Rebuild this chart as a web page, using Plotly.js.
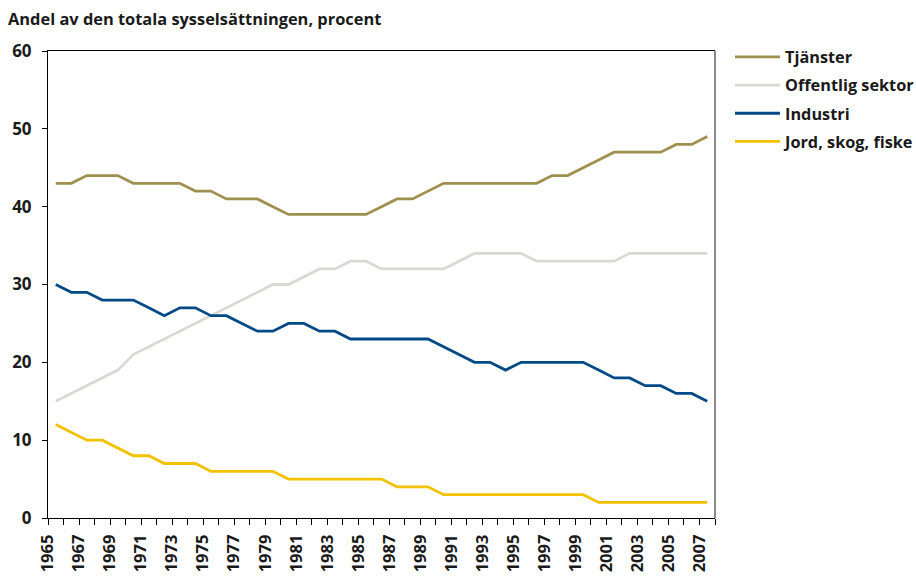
<!DOCTYPE html>
<html>
<head>
<meta charset="utf-8">
<script src="https://cdn.plot.ly/plotly-3.0.1.min.js"></script>
<style>html,body{margin:0;padding:0;background:#fff;}#chart{width:916px;height:580px;}</style>
</head>
<body>
<div id="chart"></div>
<script>
var years = [];
for (var y = 1965; y <= 2007; y++) years.push(y);

var tjanster = [43,43,44,44,44,43,43,43,43,42,42,41,41,41,40,39,39,39,39,39,39,40,41,41,42,43,43,43,43,43,43,43,44,44,45,46,47,47,47,47,48,48,49];
var offentlig = [15,16,17,18,19,21,22,23,24,25,26,27,28,29,30,30,31,32,32,33,33,32,32,32,32,32,33,34,34,34,34,33,33,33,33,33,33,34,34,34,34,34,34];
var industri = [30,29,29,28,28,28,27,26,27,27,26,26,25,24,24,25,25,24,24,23,23,23,23,23,23,22,21,20,20,19,20,20,20,20,20,19,18,18,17,17,16,16,15];
var jord = [12,11,10,10,9,8,8,7,7,7,6,6,6,6,6,5,5,5,5,5,5,5,4,4,4,3,3,3,3,3,3,3,3,3,3,2,2,2,2,2,2,2,2];

var seriesNames = ["Tjänster", "Offentlig sektor", "Industri", "Jord, skog, fiske"];
var seriesColors = ["#9e9150", "#d9d9d4", "#024a86", "#f4c100"];
var seriesData = [tjanster, offentlig, industri, jord];

var labelYears = years.filter(function (v) { return (v - 1965) % 2 === 0; });
var labelPos = labelYears.map(function (v) { return v - 0.5; });
var boundaries = years.map(function (v) { return v - 0.5; }).concat([years[years.length - 1] + 0.5]);

var FONT = "Open Sans, Noto Sans, sans-serif";

var traces = seriesData.map(function (d, k) {
  return {
    x: years, y: d, type: "scatter", mode: "lines",
    name: seriesNames[k], legendgroup: "g" + k,
    line: {color: seriesColors[k], width: 2.8},
    hoverinfo: "x+y+name"
  };
});

var layout = {
  width: 916, height: 580,
  margin: {l: 48, r: 201, t: 51, b: 62, pad: 0, autoexpand: false},
  paper_bgcolor: "#fff", plot_bgcolor: "#fff",
  font: {family: FONT, color: "#1a1a1a", size: 16},
  title: {
    text: "<b>Andel av den totala sysselsättningen, procent</b>",
    xref: "container", yref: "container",
    x: 8 / 916, xanchor: "left", y: 1 - 19 / 580, yanchor: "middle",
    font: {family: FONT, size: 16.4, color: "#1a1a1a"}
  },
  xaxis: {
    range: [1964.5, 2007.5], type: "linear", fixedrange: true,
    showgrid: false, zeroline: false, automargin: false,
    showline: true, linecolor: "#000", linewidth: 1, mirror: true,
    tickmode: "array", tickvals: labelPos,
    ticktext: labelYears.map(String),
    ticks: "", tickangle: -90, ticklabelstandoff: 9,
    tickfont: {family: FONT, size: 16.5, color: "#1a1a1a", weight: "bold"},
    minor: {tickmode: "array", tickvals: boundaries, ticks: "outside", ticklen: 6, tickcolor: "#000", tickwidth: 1, showgrid: false}
  },
  yaxis: {
    range: [0, 60], dtick: 10, tick0: 0, fixedrange: true,
    showgrid: false, zeroline: false, automargin: false,
    showline: true, linecolor: "#000", linewidth: 1, mirror: false,
    ticks: "outside", ticklen: 5, tickcolor: "#000",
    ticklabelstandoff: 7,
    tickfont: {family: FONT, size: 17, color: "#1a1a1a", weight: "bold"}
  },
  legend: {
    x: (730 - 48) / 667, xanchor: "left", xref: "paper",
    y: 1.024, yanchor: "top",
    traceorder: "grouped", tracegroupgap: 4,
    itemwidth: 45,
    font: {family: FONT, size: 16.3, color: "#1a1a1a", weight: "bold"},
    bgcolor: "rgba(0,0,0,0)"
  },
  showlegend: true,
  shapes: [
    {type: "line", xref: "paper", yref: "paper", x0: 1, x1: 1, y0: 0, y1: 1, line: {color: "#8c8c8c", width: 2}}
  ]
};

Plotly.newPlot("chart", traces, layout, {displayModeBar: false, staticPlot: true});
</script>
</body>
</html>
